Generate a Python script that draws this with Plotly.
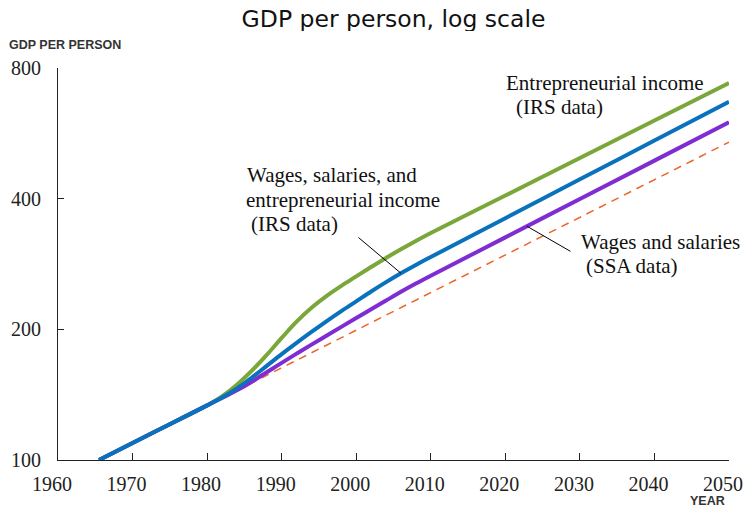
import numpy as np
import plotly.graph_objects as go

# ---- data: GDP per person (log scale) ----
years = [1965.5, 1970, 1975,
         1980, 1982, 1984, 1986, 1988, 1990, 1992, 1994, 1996, 1998,
         2000, 2002, 2004, 2006, 2008, 2010,
         2020, 2030, 2040, 2050]

# Entrepreneurial income (IRS data)
entre = [100, 109.4, 120.9,
         133.6, 140.2, 149.1, 160.6, 174.7, 191.1, 208.3, 224.3, 238.6, 251.9,
         264.8, 278.4, 292.1, 305.8, 319.6, 333.3,
         406.7, 496.3, 605.6, 739]

# Wages, salaries, and entrepreneurial income (IRS data)
wse = [100, 109.4, 120.9,
       133.6, 139.3, 146.2, 154.9, 164.8, 175.4, 186.2, 197.3, 208.7, 220.3,
       232.0, 244.4, 256.9, 269.3, 281.4, 293.5,
       360.7, 443.2, 544.6, 669]

# Wages and salaries (SSA data)
ws = [100, 109.4, 120.9,
      133.6, 139.0, 144.7, 151.5, 159.3, 167.4, 175.8, 184.4, 193.3, 202.6,
      212.3, 222.4, 233.0, 244.0, 254.9, 265.8,
      325.8, 399.3, 489.4, 600]

# constant-growth trend
trend_years = [1965.5, 2050]
trend = [100, 540]

x_ticks = [1960, 1970, 1980, 1990, 2000, 2010, 2020, 2030, 2040, 2050]
y_ticks = [100, 200, 400, 800]
y_tick_text = ["100", "200", "400", "800"]

GREEN = "#7AA63A"
BLUE = "#0A72BC"
PURPLE = "#7F2DD2"
ORANGE = "#EB6428"
SERIF = "Liberation Serif"
SANS = "Liberation Sans"
INK = "#222222"

W, H = 746, 507
L, R, B = 58, 17, 47
PAPER_H = H - B          # paper spans from the top edge down to the x axis
PLOT_TOP = 68            # top of the y axis, in pixels
TITLE_CLIP = 31          # bottom edge of the title strip, in pixels


def value_at(yrs, values, year):
    """Log-linear lookup of a series value at a given year."""
    return float(10 ** np.interp(year, yrs, np.log10(values)))


def px_x(px):
    return (px - L) / (W - L - R)


def px_y(py):
    return (PAPER_H - py) / PAPER_H


fig = go.Figure()
fig.add_trace(go.Scatter(x=trend_years, y=trend, mode="lines", hoverinfo="skip",
                         line=dict(color=ORANGE, width=1.5, dash="8px,6px")))
fig.add_trace(go.Scatter(x=years, y=entre, mode="lines",
                         line=dict(color=GREEN, width=4, shape="spline", smoothing=1)))
fig.add_trace(go.Scatter(x=years, y=ws, mode="lines",
                         line=dict(color=PURPLE, width=4, shape="spline", smoothing=1)))
fig.add_trace(go.Scatter(x=years, y=wse, mode="lines",
                         line=dict(color=BLUE, width=4, shape="spline", smoothing=1)))

# title sits in its own clipped strip at the top
fig.add_trace(go.Scatter(x=[0.5], y=[0.32], mode="text", text=["GDP per person, log scale"],
                         textposition="middle center", cliponaxis=True, hoverinfo="skip",
                         textfont=dict(family="DejaVu Sans", size=23.5, color="#111111"),
                         xaxis="x2", yaxis="y2"))

fig.update_layout(
    width=W, height=H,
    margin=dict(l=L, r=R, t=0, b=B, autoexpand=False),
    paper_bgcolor="white", plot_bgcolor="white",
    showlegend=False,
    xaxis=dict(domain=[0, 1], anchor="y"),
    yaxis=dict(domain=[0, px_y(PLOT_TOP)], anchor="x"),
    xaxis2=dict(domain=[0, 1], range=[0, 1], anchor="y2", visible=False, fixedrange=True),
    yaxis2=dict(domain=[px_y(TITLE_CLIP), 1], range=[0, 1], anchor="x2", visible=False,
                fixedrange=True),
)

fig.update_xaxes(selector=dict(anchor="y"),
                 range=[1960, 2050], tickvals=x_ticks, ticks="inside", ticklen=7,
                 tickcolor=INK, tickwidth=1.2, showline=True, linecolor=INK, linewidth=1.2,
                 showgrid=False, zeroline=False, ticklabelshift=-6, ticklabelstandoff=6,
                 automargin=False, tickfont=dict(family=SERIF, size=20, color=INK))
fig.update_yaxes(selector=dict(anchor="x"),
                 type="log", range=[2, np.log10(800)], tickvals=y_ticks, ticktext=y_tick_text,
                 ticks="inside", ticklen=6, tickcolor=INK, tickwidth=1.2,
                 showline=True, linecolor=INK, linewidth=1.2, showgrid=False, zeroline=False,
                 ticklabelstandoff=12, automargin=False,
                 tickfont=dict(family=SERIF, size=20, color=INK))

labels = [
    ("Entrepreneurial income", 505, 83),
    ("(IRS data)", 515, 107),
    ("Wages, salaries, and", 246, 175),
    ("entrepreneurial income", 245, 199.5),
    ("(IRS data)", 250, 224),
    ("Wages and salaries", 580, 242),
    ("(SSA data)", 585, 266),
]
for text, lx, ly in labels:
    fig.add_annotation(text=text, x=px_x(lx), y=px_y(ly), xref="paper", yref="paper",
                       xanchor="left", yanchor="middle", showarrow=False, borderpad=0,
                       font=dict(family=SERIF, size=21, color="#111111"))

# leader lines to the blue and purple curves
fig.add_annotation(x=2006, y=np.log10(value_at(years, wse, 2006)), xref="x", yref="y",
                   ax=-44, ay=-37, text="", showarrow=True, arrowhead=0,
                   arrowwidth=1, arrowcolor="black")
fig.add_annotation(x=2022.9, y=np.log10(value_at(years, ws, 2022.9)), xref="x", yref="y",
                   ax=45, ay=26, text="", showarrow=True, arrowhead=0,
                   arrowwidth=1, arrowcolor="black")

# axis captions
fig.add_annotation(text="<b>GDP PER PERSON</b>", x=px_x(8), y=px_y(45), xref="paper", yref="paper",
                   xanchor="left", yanchor="middle", showarrow=False, borderpad=0,
                   font=dict(family=SANS, size=12.5, color="#333333"))
fig.add_annotation(text="<b>YEAR</b>", x=px_x(726), y=px_y(501), xref="paper", yref="paper",
                   xanchor="right", yanchor="middle", showarrow=False, borderpad=0,
                   font=dict(family=SANS, size=12.5, color="#333333"))

fig.write_html("out.html")
